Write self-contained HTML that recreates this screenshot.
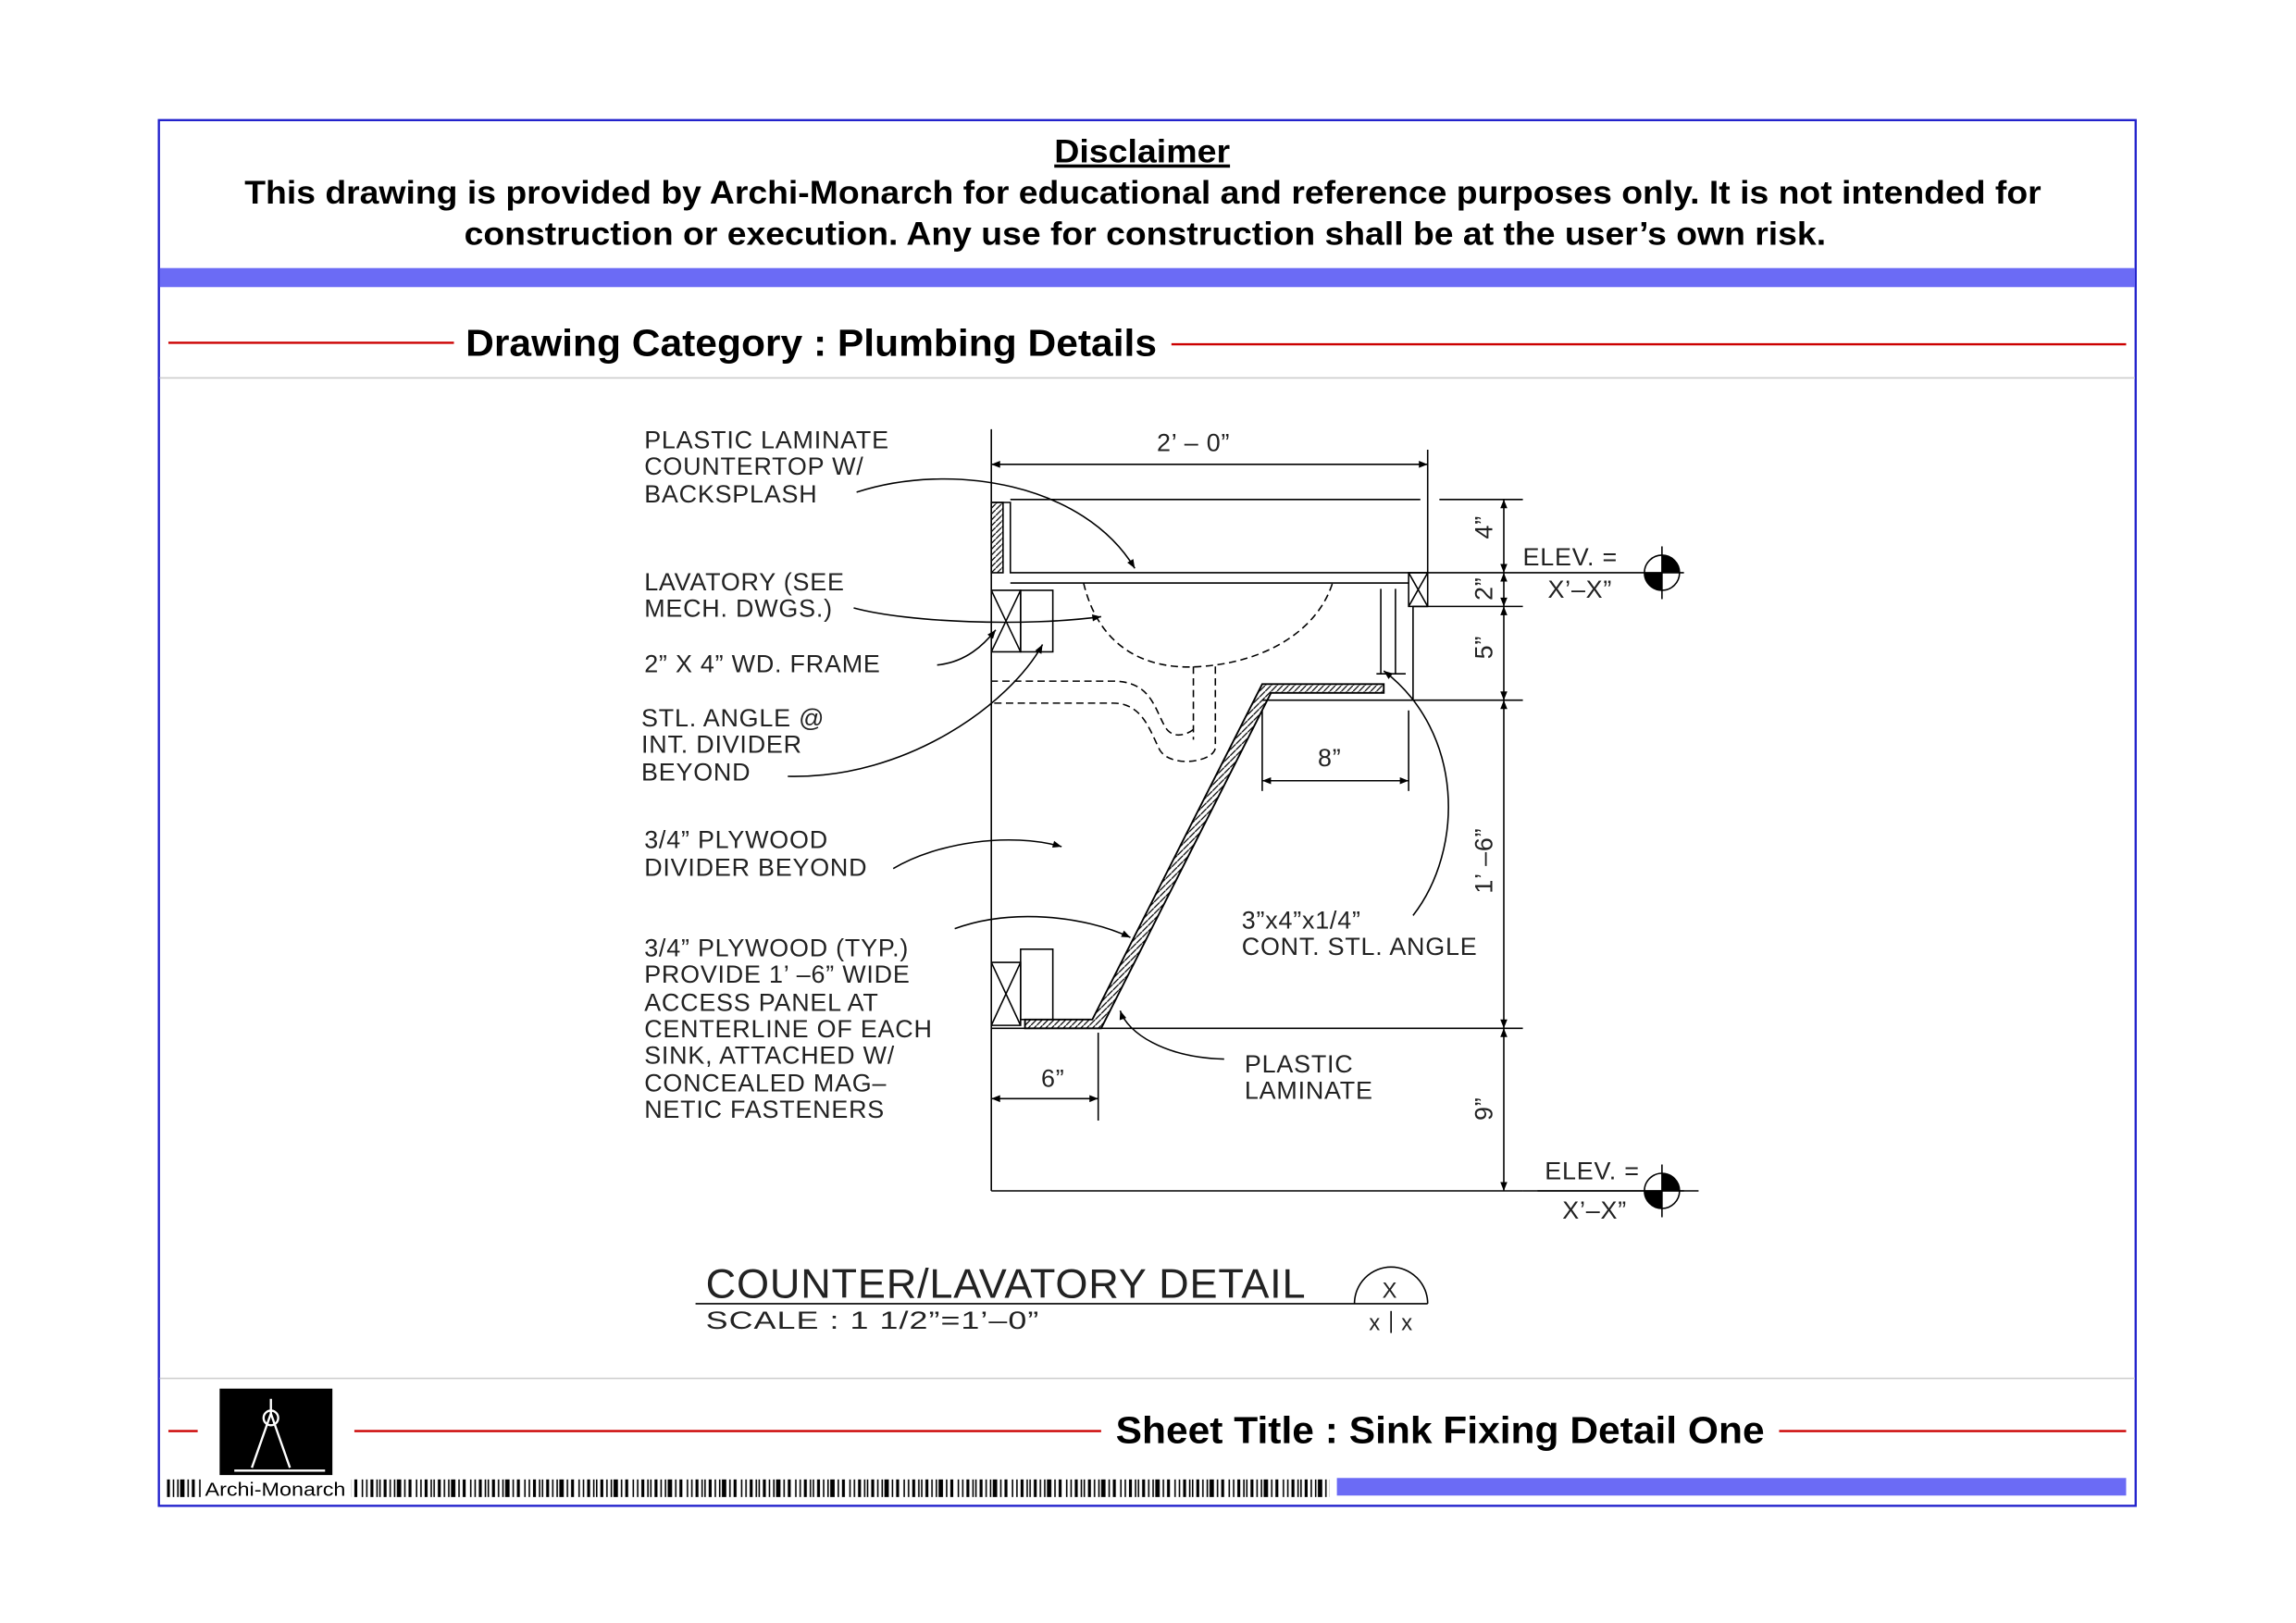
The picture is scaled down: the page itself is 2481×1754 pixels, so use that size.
<!DOCTYPE html>
<html><head><meta charset="utf-8"><style>
html,body{margin:0;padding:0;background:#fff}
svg{display:block}
.t{font-family:"Liberation Sans",sans-serif;font-size:17px;fill:#222;letter-spacing:0.5px}
.b{font-family:"Liberation Sans",sans-serif;font-weight:bold;fill:#000}
</style></head><body>
<svg width="2481" height="1754" viewBox="0 0 1568 1108" preserveAspectRatio="none" xmlns="http://www.w3.org/2000/svg">
<defs>
<marker id="a" viewBox="0 0 10 10" refX="10" refY="5" markerWidth="9" markerHeight="6" orient="auto-start-reverse"><path d="M0,1 L10,5 L0,9 Z" fill="#000"/></marker>
<pattern id="bc" width="37" height="12" patternUnits="userSpaceOnUse">
<rect x="0" y="0" width="1" height="12" fill="#000"/><rect x="3" y="0" width="2" height="12" fill="#000"/><rect x="7" y="0" width="1" height="12" fill="#000"/><rect x="10" y="0" width="1" height="12" fill="#000"/><rect x="12" y="0" width="3" height="12" fill="#000"/><rect x="17" y="0" width="1" height="12" fill="#000"/><rect x="20" y="0" width="2" height="12" fill="#000"/><rect x="25" y="0" width="1" height="12" fill="#000"/><rect x="28" y="0" width="1" height="12" fill="#000"/><rect x="31" y="0" width="2" height="12" fill="#000"/><rect x="35" y="0" width="1" height="12" fill="#000"/>
</pattern>
<pattern id="h" width="4" height="4" patternUnits="userSpaceOnUse"><path d="M0,4 L4,0" stroke="#000" stroke-width="0.8"/></pattern>
</defs>
<rect x="108.5" y="82" width="1350" height="946" fill="none" stroke="#2222cc" stroke-width="1.5"/>
<rect x="109" y="183" width="1349" height="13" fill="#6b6bf5"/>
<line x1="109" y1="258" x2="1458" y2="258" stroke="#ccc"/>
<line x1="109" y1="941" x2="1458" y2="941" stroke="#ccc"/>
<text x="720" y="111" textLength="120" lengthAdjust="spacingAndGlyphs" class="b" font-size="22" text-decoration="underline">Disclaimer</text>
<text x="167" y="139" textLength="1227" lengthAdjust="spacingAndGlyphs" class="b" font-size="22">This drawing is provided by Archi-Monarch for educational and reference purposes only. It is not intended for</text>
<text x="317" y="167" textLength="930" lengthAdjust="spacingAndGlyphs" class="b" font-size="22">construction or execution. Any use for construction shall be at the user’s own risk.</text>
<line x1="115" y1="234" x2="310" y2="234" stroke="#c00" stroke-width="1.5"/>
<line x1="800" y1="235" x2="1452" y2="235" stroke="#c00" stroke-width="1.5"/>
<text x="318" y="243" textLength="472" lengthAdjust="spacingAndGlyphs" class="b" font-size="26">Drawing Category : Plumbing Details</text>

<g stroke="#000" stroke-width="1" fill="none">
<line x1="677" y1="293" x2="677" y2="813"/>
<line x1="677" y1="813" x2="1040" y2="813"/>
<line x1="1040" y1="813" x2="1150" y2="813"/>
<line x1="677" y1="317" x2="975" y2="317" marker-start="url(#a)" marker-end="url(#a)"/>
<line x1="975" y1="307" x2="975" y2="391"/>
<line x1="690" y1="341" x2="970" y2="341"/>
<line x1="983" y1="341" x2="1040" y2="341"/>
<path d="M677,343 L690,343 L690,391 L975,391"/>
<rect x="677" y="343" width="8" height="48" fill="url(#h)"/>
<line x1="690" y1="398" x2="962" y2="398"/>
<line x1="975" y1="391" x2="1150" y2="391"/>
<path d="M962,391 L975,391 L975,414 L962,414 Z M962,391 L975,414 M975,391 L962,414"/>
<path d="M975,414 L965,414 L965,478 L862,478"/>
<line x1="965" y1="414" x2="1040" y2="414"/>
<line x1="965" y1="478" x2="1040" y2="478"/>
<path d="M677,403 L697,403 L697,445 L677,445 M677,403 L697,445 M697,403 L677,445"/>
<rect x="697" y="403" width="22" height="42"/>
<path d="M943,402 L943,460 M953,402 L953,460 M940,460 L960,460" />
<path d="M740,398 C750,440 780,458 820,455 C865,452 900,430 910,398" stroke-dasharray="5,3"/>
<path d="M815,455 L815,505 M830,455 L830,510 C830,520 800,525 792,512 C785,498 780,480 760,480 L677,480 M815,498 C810,502 800,505 795,495 C788,482 785,465 760,465 L677,465" stroke-dasharray="5,3"/>
<path d="M862,467 L945,467 L945,473 L868,473 L752,702 L700,702 L700,696 L746,696 Z" fill="url(#h)" stroke-width="1.2"/>
<line x1="677" y1="702" x2="1040" y2="702"/>
<path d="M677,657 L697,657 L697,700 L677,700 M677,657 L697,700 M697,657 L677,700"/>
<rect x="697" y="648" width="22" height="48"/>
<line x1="862" y1="485" x2="862" y2="540"/>
<line x1="962" y1="485" x2="962" y2="540"/>
<line x1="862" y1="533" x2="962" y2="533" marker-start="url(#a)" marker-end="url(#a)"/>
<line x1="750" y1="705" x2="750" y2="765"/>
<line x1="677" y1="750" x2="750" y2="750" marker-start="url(#a)" marker-end="url(#a)"/>
<line x1="1027" y1="341" x2="1027" y2="391" marker-start="url(#a)" marker-end="url(#a)"/>
<line x1="1027" y1="391" x2="1027" y2="414" marker-start="url(#a)" marker-end="url(#a)"/>
<line x1="1027" y1="414" x2="1027" y2="478" marker-start="url(#a)" marker-end="url(#a)"/>
<line x1="1027" y1="478" x2="1027" y2="702" marker-start="url(#a)" marker-end="url(#a)"/>
<line x1="1027" y1="702" x2="1027" y2="813" marker-start="url(#a)" marker-end="url(#a)"/>
<path d="M585,336 C650,315 740,330 775,388" marker-end="url(#a)"/>
<path d="M583,415 C620,425 700,428 752,421" marker-end="url(#a)"/>
<path d="M640,454 C660,452 672,440 680,430" marker-end="url(#a)"/>
<path d="M538,530 C620,532 690,480 712,440" marker-end="url(#a)"/>
<path d="M610,593 C640,575 690,568 725,578" marker-end="url(#a)"/>
<path d="M652,634 C690,620 740,625 772,640" marker-end="url(#a)"/>
<path d="M836,723 C795,722 770,705 765,690" marker-end="url(#a)"/>
<path d="M965,625 C1000,580 1000,500 945,458" marker-end="url(#a)"/>
<circle cx="1135" cy="391" r="12"/><line x1="1135" y1="373" x2="1135" y2="409"/>
<circle cx="1135" cy="813" r="12"/><line x1="1135" y1="795" x2="1135" y2="831"/>
<line x1="1050" y1="813" x2="1160" y2="813"/>
<line x1="475" y1="890" x2="975" y2="890"/>
<path d="M925,890 A25,25 0 0 1 975,890"/>
<line x1="950" y1="895" x2="950" y2="910"/>
</g>
<path d="M1135,391 L1135,379 A12,12 0 0 1 1147,391 Z M1135,391 L1123,391 A12,12 0 0 0 1135,403 Z" fill="#000"/>
<path d="M1135,813 L1135,801 A12,12 0 0 1 1147,813 Z M1135,813 L1123,813 A12,12 0 0 0 1135,825 Z" fill="#000"/>
<text class="t" x="790" y="308">2’ – 0”</text>
<text class="t" x="440" y="306">PLASTIC  LAMINATE</text>
<text class="t" x="440" y="324">COUNTERTOP  W/</text>
<text class="t" x="440" y="343">BACKSPLASH</text>
<text class="t" x="440" y="403">LAVATORY  (SEE</text>
<text class="t" x="440" y="421">MECH.  DWGS.)</text>
<text class="t" x="440" y="459">2”  X  4”  WD.  FRAME</text>
<text class="t" x="438" y="496">STL.  ANGLE  @</text>
<text class="t" x="438" y="514">INT.  DIVIDER</text>
<text class="t" x="438" y="533">BEYOND</text>
<text class="t" x="440" y="579">3/4”  PLYWOOD</text>
<text class="t" x="440" y="598">DIVIDER  BEYOND</text>
<text class="t" x="440" y="653">3/4”  PLYWOOD  (TYP.)</text>
<text class="t" x="440" y="671">PROVIDE  1’  –6”  WIDE</text>
<text class="t" x="440" y="690">ACCESS  PANEL  AT</text>
<text class="t" x="440" y="708">CENTERLINE  OF  EACH</text>
<text class="t" x="440" y="726">SINK,  ATTACHED  W/</text>
<text class="t" x="440" y="745">CONCEALED  MAG–</text>
<text class="t" x="440" y="763">NETIC  FASTENERS</text>
<text class="t" x="900" y="523">8”</text>
<text class="t" x="711" y="742">6”</text>
<text class="t" x="848" y="634">3”x4”x1/4”</text>
<text class="t" x="848" y="652">CONT.  STL.  ANGLE</text>
<text class="t" x="850" y="732">PLASTIC</text>
<text class="t" x="850" y="750">LAMINATE</text>
<text class="t" x="1040" y="386">ELEV.  =</text>
<text class="t" x="1057" y="408">X’–X”</text>
<text class="t" x="1055" y="805">ELEV.  =</text>
<text class="t" x="1067" y="832">X’–X”</text>
<text class="t" transform="translate(1019,368) rotate(-90)">4”</text>
<text class="t" transform="translate(1019,410) rotate(-90)">2”</text>
<text class="t" transform="translate(1019,450) rotate(-90)">5”</text>
<text class="t" transform="translate(1019,610) rotate(-90)">1’  –6”</text>
<text class="t" transform="translate(1019,765) rotate(-90)">9”</text>
<text class="t" x="482" y="886" style="font-size:28px" textLength="410" lengthAdjust="spacingAndGlyphs">COUNTER/LAVATORY  DETAIL</text>
<text class="t" x="482" y="907" textLength="228" lengthAdjust="spacingAndGlyphs">SCALE  :  1  1/2”=1’–0”</text>
<text class="t" x="944" y="886" style="font-size:15px">X</text>
<text class="t" x="935" y="908" style="font-size:15px">x</text><text class="t" x="957" y="908" style="font-size:15px">x</text>

<rect x="150" y="948" width="77" height="59" fill="#000"/>
<path d="M185,955 L185,965 M185,965 L172,1002 M185,965 L198,1002 M160,1004 L222,1004" stroke="#fff" stroke-width="1.5" fill="none"/>
<circle cx="185" cy="968" r="5" fill="none" stroke="#fff" stroke-width="1.5"/>
<line x1="115" y1="977" x2="135" y2="977" stroke="#c00" stroke-width="1.5"/>
<line x1="242" y1="977" x2="752" y2="977" stroke="#c00" stroke-width="1.5"/>
<line x1="1215" y1="977" x2="1452" y2="977" stroke="#c00" stroke-width="1.5"/>
<text x="762" y="985" textLength="443" lengthAdjust="spacingAndGlyphs" class="b" font-size="26">Sheet Title : Sink Fixing Detail One</text>
<rect x="114" y="1010" width="24" height="12" fill="url(#bc)"/>
<rect x="240" y="1010" width="668" height="12" fill="url(#bc)"/>
<text x="140" y="1021" font-family="Liberation Sans,sans-serif" font-size="13" fill="#000" textLength="96" lengthAdjust="spacingAndGlyphs">Archi-Monarch</text>
<rect x="913" y="1009" width="539" height="12" fill="#6b6bf5"/>
</svg>
</body></html>
